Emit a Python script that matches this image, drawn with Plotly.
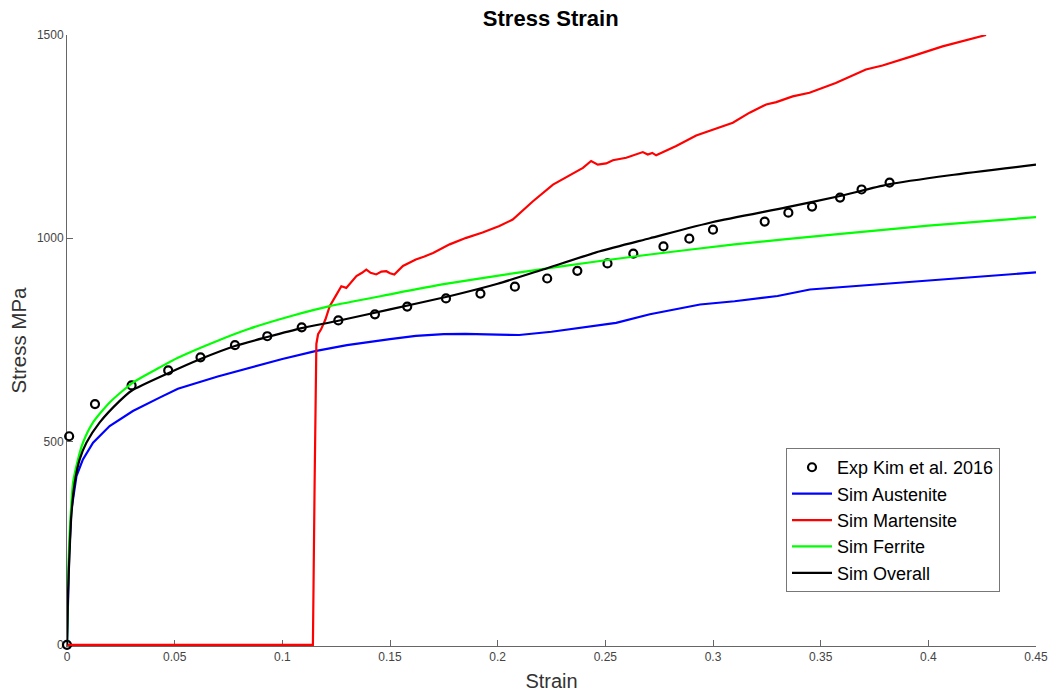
import plotly.graph_objects as go

# Experimental data (Kim et al. 2016)
exp_strain = [0.0, 0.001, 0.013, 0.030, 0.047, 0.062, 0.078, 0.093, 0.109, 0.126, 0.143,
              0.158, 0.176, 0.192, 0.208, 0.223, 0.237, 0.251, 0.263, 0.277, 0.289, 0.300,
              0.324, 0.335, 0.346, 0.359, 0.369, 0.382]
exp_stress = [0, 513, 592, 638, 675, 707, 737, 759, 781, 798, 813,
              832, 852, 864, 881, 901, 920, 938, 962, 980, 999, 1021,
              1041, 1063, 1078, 1100, 1120, 1137]

# Sim Austenite
aus_strain = [0.0, 0.0005, 0.001, 0.002, 0.0044, 0.0074, 0.0121, 0.0198, 0.0306, 0.043, 0.0515,
              0.07, 0.085, 0.1, 0.1158, 0.13, 0.15, 0.162, 0.175, 0.185, 0.2, 0.21, 0.225,
              0.2395, 0.255, 0.2707, 0.28, 0.294, 0.31, 0.33, 0.345, 0.36, 0.379, 0.4, 0.42, 0.45]
aus_stress = [0, 120, 220, 330, 415, 456, 497, 538, 575, 608, 630,
              660, 682, 703, 723, 737, 752, 760, 764, 765, 763, 762, 770,
              780, 792, 813, 822, 837, 845, 858, 874, 880, 887, 896, 905, 916]

# Sim Martensite
mar_strain = [0.0, 0.1142, 0.1150, 0.1158, 0.1166, 0.118, 0.120, 0.122, 0.125, 0.1274, 0.1297,
              0.132, 0.1344, 0.137, 0.139, 0.141, 0.1436, 0.146, 0.1483, 0.150, 0.152, 0.156,
              0.162, 0.166, 0.170, 0.1777, 0.1854, 0.193, 0.1994, 0.2008, 0.207, 0.2087,
              0.2164, 0.2257, 0.2334, 0.2396, 0.2434, 0.2465, 0.2504, 0.2535, 0.2597, 0.2643,
              0.2674, 0.2697, 0.2718, 0.2736, 0.2829, 0.2922, 0.303, 0.3092, 0.317, 0.3247,
              0.3294, 0.337, 0.3448, 0.357, 0.371, 0.3787, 0.3926, 0.4066, 0.4268]
mar_stress = [0, 0, 400, 740, 764, 776, 800, 833, 860, 882, 878,
              893, 907, 915, 923, 915, 911, 918, 919, 914, 911, 932,
              948, 955, 964, 985, 1001, 1014, 1026, 1030, 1046, 1054,
              1091, 1132, 1154, 1173, 1190, 1181, 1184, 1192, 1198, 1206,
              1212, 1206, 1210, 1204, 1227, 1253, 1273, 1284, 1309, 1329,
              1335, 1349, 1358, 1382, 1415, 1425, 1448, 1472, 1500]

# Sim Ferrite
fer_strain = [0.0, 0.0005, 0.001, 0.0018, 0.0028, 0.0051, 0.0074, 0.0121, 0.0198, 0.0306,
              0.043, 0.0515, 0.07, 0.085, 0.105, 0.122, 0.15, 0.175, 0.2087, 0.2475, 0.2707,
              0.31, 0.3556, 0.40, 0.45]
fer_stress = [0, 150, 250, 330, 399, 456, 497, 547, 596, 645,
              682, 706, 748, 778, 810, 833, 862, 887, 915, 944, 960,
              985, 1009, 1031, 1052]

# Sim Overall
ovr_strain = [0.0, 0.0005, 0.00125, 0.002, 0.0036, 0.0059, 0.009, 0.0152, 0.0245, 0.030,
              0.047, 0.062, 0.078, 0.093, 0.109, 0.126, 0.15, 0.178, 0.2, 0.221, 0.2475,
              0.2707, 0.300, 0.334, 0.359, 0.381, 0.41, 0.45]
ovr_stress = [0, 130, 235, 317, 399, 456, 497, 547, 600, 625,
              668, 703, 735, 757, 779, 797, 825, 858, 888, 923, 968,
              1000, 1040, 1076, 1104, 1132, 1155, 1181]

FONT = "Liberation Sans, Arial, Helvetica, sans-serif"

fig = go.Figure()
fig.add_trace(go.Scatter(x=exp_strain, y=exp_stress, mode="markers", name="Exp Kim et al. 2016",
                         marker=dict(symbol="circle-open", size=8, color="black",
                                     line=dict(width=2.2, color="black")),
                         cliponaxis=False))
fig.add_trace(go.Scatter(x=aus_strain, y=aus_stress, mode="lines", name="Sim Austenite",
                         line=dict(color="#0000ff", width=2.2), cliponaxis=False))
fig.add_trace(go.Scatter(x=mar_strain, y=mar_stress, mode="lines", name="Sim Martensite",
                         line=dict(color="#ff0000", width=2.2), cliponaxis=False))
fig.add_trace(go.Scatter(x=fer_strain, y=fer_stress, mode="lines", name="Sim Ferrite",
                         line=dict(color="#00ff00", width=2.2, shape="spline", smoothing=0.6),
                         cliponaxis=False))
fig.add_trace(go.Scatter(x=ovr_strain, y=ovr_stress, mode="lines", name="Sim Overall",
                         line=dict(color="#000000", width=2.2, shape="spline", smoothing=0.6),
                         cliponaxis=False))

axis_common = dict(ticks="inside", ticklen=6, tickcolor="#666666", showline=True,
                   linecolor="#666666", linewidth=1, showgrid=False, zeroline=False,
                   automargin=False, layer="below traces",
                   tickfont=dict(size=12, color="#444444"))

fig.update_layout(
    width=1052, height=694,
    margin=dict(l=67, r=16, t=35, b=48),
    paper_bgcolor="white", plot_bgcolor="white",
    font=dict(family=FONT, color="#333333"),
    title=dict(text="<b>Stress Strain</b>", x=0.5235, xanchor="center", y=0.974, yanchor="middle",
               font=dict(family=FONT, size=22, color="black"), automargin=False),
    xaxis=dict(range=[0, 0.45], tickvals=[0, 0.05, 0.1, 0.15, 0.2, 0.25, 0.3, 0.35, 0.4, 0.45],
               ticktext=["0", "0.05", "0.1", "0.15", "0.2", "0.25", "0.3", "0.35", "0.4", "0.45"],
               title=dict(text="Strain", font=dict(size=20, color="#333333"), standoff=10),
               **axis_common),
    yaxis=dict(range=[-3, 1500], tickvals=[0, 500, 1000, 1500],
               title=dict(text="Stress MPa", font=dict(size=20.5, color="#333333"), standoff=4),
               **axis_common),
    legend=dict(x=0.742, y=0.324, xanchor="left", yanchor="top",
                bordercolor="#777777", borderwidth=1, bgcolor="white",
                font=dict(family=FONT, size=18, color="black"),
                itemwidth=40, tracegroupgap=0),
    showlegend=True,
)

fig.write_html("out.html")
